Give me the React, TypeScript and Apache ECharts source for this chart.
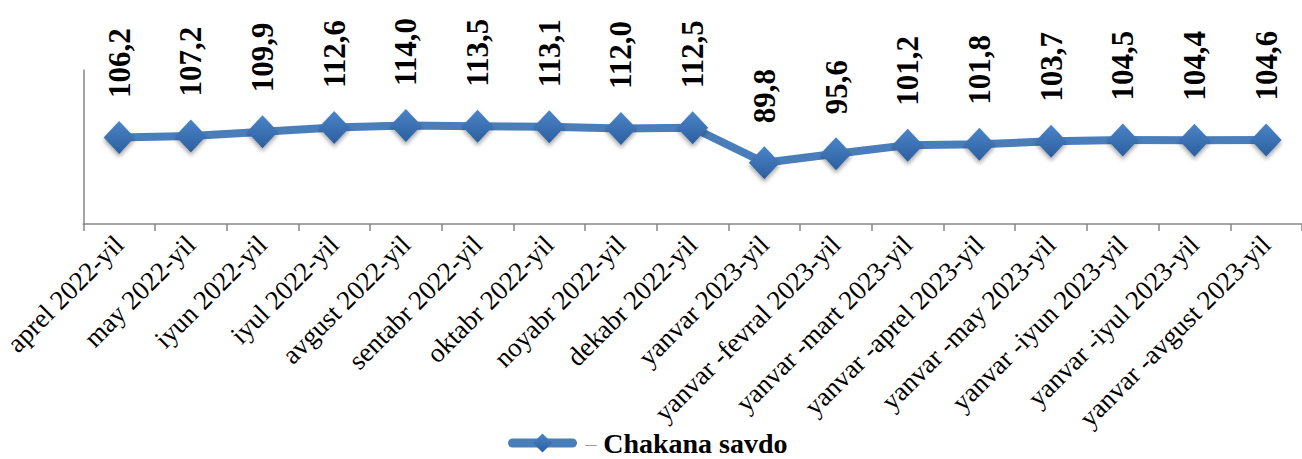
import React, { useEffect, useRef } from "react";
import * as echarts from "echarts";

const categories = [
  "aprel 2022-yil",
  "may 2022-yil",
  "iyun 2022-yil",
  "iyul 2022-yil",
  "avgust 2022-yil",
  "sentabr 2022-yil",
  "oktabr 2022-yil",
  "noyabr 2022-yil",
  "dekabr 2022-yil",
  "yanvar 2023-yil",
  "yanvar -fevral 2023-yil",
  "yanvar -mart 2023-yil",
  "yanvar -aprel 2023-yil",
  "yanvar -may 2023-yil",
  "yanvar -iyun 2023-yil",
  "yanvar -iyul 2023-yil",
  "yanvar -avgust 2023-yil",
];

const seriesName = "Chakana savdo";
const values = [106.2, 107.2, 109.9, 112.6, 114.0, 113.5, 113.1, 112.0, 112.5, 89.8, 95.6, 101.2, 101.8, 103.7, 104.5, 104.4, 104.6];

const yMin = 50;
const yMax = 150;

const FONT = "Liberation Serif";

export default function App() {
  const ref = useRef<HTMLDivElement>(null);
  useEffect(() => {
    if (!ref.current) return;
    const chart = echarts.init(ref.current, null, { renderer: "svg" });
    const markerColor = new echarts.graphic.LinearGradient(0, 0, 0, 1, [
      { offset: 0, color: "#4a84c8" },
      { offset: 1, color: "#2c5f9e" },
    ]);
    chart.setOption({
      animation: false,
      backgroundColor: "#ffffff",
      grid: { left: 81, top: 70, width: 1224, height: 154, containLabel: false },
      xAxis: {
        type: "category",
        data: categories,
        boundaryGap: true,
        axisLine: { show: true, lineStyle: { color: "#868686", width: 1.5 } },
        axisTick: { show: true, length: 7, lineStyle: { color: "#868686", width: 1.5 } },
        axisLabel: {
          rotate: 45,
          interval: 0,
          margin: 16,
          fontSize: 27,
          fontFamily: FONT,
          color: "#000000",
        },
        splitLine: { show: false },
      },
      yAxis: {
        type: "value",
        min: yMin,
        max: yMax,
        axisLine: { show: true, lineStyle: { color: "#868686", width: 1.5 } },
        axisTick: { show: false },
        axisLabel: { show: false },
        splitLine: { show: false },
      },
      legend: {
        left: 503,
        top: 424,
        itemWidth: 60,
        itemHeight: 24,
        data: [seriesName],
        lineStyle: { width: 9, cap: "round", color: "#4a7ebb" },
        formatter: () => "{d|–}  {b|" + seriesName + "}",
        textStyle: {
          lineHeight: 28,
          rich: {
            d: { fontSize: 22, color: "#9a9a9a", fontFamily: FONT, padding: [0, 0, 0, 8], lineHeight: 28 },
            b: { fontSize: 28, fontWeight: "bold", color: "#000000", fontFamily: FONT, lineHeight: 28 },
          },
        },
      },
      series: [
        {
          name: seriesName,
          type: "line",
          data: values,
          symbol: "diamond",
          symbolSize: [31, 33],
          lineStyle: { color: "#4a7ebb", width: 8, cap: "round", join: "round" },
          itemStyle: {
            color: markerColor,
            shadowColor: "rgba(0,0,0,0.35)",
            shadowBlur: 4,
            shadowOffsetY: 3,
          },
          label: {
            show: true,
            position: "top",
            distance: 23,
            rotate: 90,
            align: "left",
            verticalAlign: "middle",
            fontSize: 31,
            fontWeight: "bold",
            fontFamily: FONT,
            color: "#000000",
            formatter: (p: any) => p.value.toFixed(1).replace(".", ","),
          },
        },
      ],
    });
    return () => chart.dispose();
  }, []);
  return (
    <div
      ref={ref}
      style={{ position: "absolute", left: 0, top: 0, width: 1302, height: 459 }}
    />
  );
}
